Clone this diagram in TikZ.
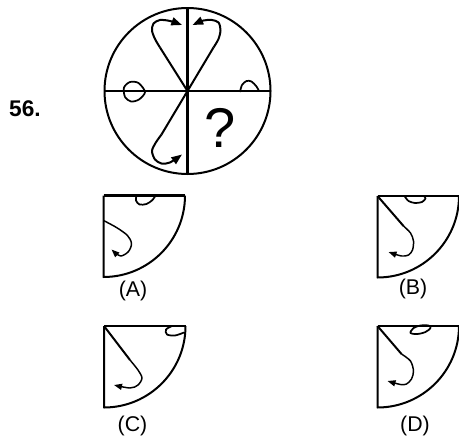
\documentclass[tikz,border=0pt]{standalone}
\usepackage{fontspec}
\setmainfont{Liberation Sans}
\usetikzlibrary{arrows.meta,calc}

\begin{document}
\begin{tikzpicture}[x=0.75pt, y=-0.75pt, line width=1.5pt, line join=round,
		>={Triangle[length=8pt,width=6pt]},
		hookline/.style={line width=1.1pt, -{Triangle[length=6pt,width=4.5pt]}},
		bump/.style={line width=1.3pt},
		rim/.style={line width=2pt},
		lbl/.style={font=\fontsize{16}{16}\selectfont}]
				\useasboundingbox (0,0) rectangle (459,439);
				\def\R{83}
				\def\r{81.5}
				\coordinate (O)  at (187.5,91);
				\coordinate (W)  at ($(O)+(-\R,0)$);
				\coordinate (E)  at ($(O)+(\R,0)$);
				\coordinate (N)  at ($(O)+(0,-\R)$);
				\coordinate (S)  at ($(O)+(0,\R)$);
				% the circle
				\draw (O) circle[radius=\R];
				\draw[line width=1.7pt] (W) -- (E);
				\draw[line width=1.7pt] (N) -- (S);
				\coordinate (UL) at (160,47.5);
				\coordinate (UR) at (213.5,47.5);
				\coordinate (DL) at (161.5,134.5);
				\draw (O) -- (UL);
				\draw (O) -- (UR);
				\draw (O) -- (DL);
				\draw[->] plot[smooth] coordinates {(UL) (155,39) (152,30.5) (153.5,23.5) (160,20) (170,21) (182,25)};
				\draw[->] plot[smooth] coordinates {(UR) (218.5,39) (220.5,30) (218.5,22.5) (212,20) (203.5,20.5) (192.5,25)};
				\draw[->] plot[smooth] coordinates {(DL) (155.5,143) (152,151) (155,159.5) (161.5,163.5) (170,162.5) (182,154.5)};
				\draw[bump] plot[smooth cycle] coordinates {(145,92) (138.5,83) (130,82) (124,87.5) (125,97) (131,101.5) (139,99.5)};
				\draw[bump] plot[smooth] coordinates {(240,92) (242,85) (246.5,81) (251.5,81.5) (256.5,86.5) (259,91)};
				\node (qm)  at (220,128) {\fontsize{42}{42}\selectfont ?};
				\node (num) at (25,109) {\fontsize{17}{17}\selectfont\bfseries 56.};
				% (A)
				\begin{scope}[shift={(103.5,195.5)}]
					\draw (\r,0) arc[start angle=0, end angle=90, radius=\r] -- (0,0);
					\draw[rim] (0,0) -- (\r,0);
					\draw[bump] plot[smooth] coordinates {(33,0) (32.5,5) (36,9) (43,8.5) (49,4.5) (52,0)};
					\draw[hookline] plot[smooth] coordinates {(0,25) (13,32) (24,40) (28,48) (25,56) (17,60.5) (8,54)};
					\node[lbl] (labA) at (29.5,95.5) {(A)};
				\end{scope}
				% (B)
				\begin{scope}[shift={(377.5,196)}]
					\draw (\r,0) arc[start angle=0, end angle=90, radius=\r] -- (0,0);
					\draw[rim] (0,0) -- (\r,0);
					\draw[bump] plot[smooth] coordinates {(27,0) (31,5) (37.5,7) (44.5,6) (48,2.5) (46.5,0)};
					\draw (0,0) -- (26,30);
					\draw[hookline] plot[smooth] coordinates {(26,30) (33,37) (36,45) (35,54) (31,59) (24,60) (11,56)};
					\node[lbl] (labB) at (35.5,93) {(B)};
				\end{scope}
				% (C)
				\begin{scope}[shift={(104,326)}]
					\draw (\r,0) arc[start angle=0, end angle=90, radius=\r] -- (0,0);
					\draw[rim] (0,0) -- (\r,0);
					\draw[bump] plot[smooth] coordinates {(68,0) (62,3.5) (63,8.5) (71,9.5) (80,6.5)};
					\draw (0,0) -- (26,34);
					\draw[hookline] plot[smooth] coordinates {(26,34) (34,44) (38,52) (34,59) (26,62) (10,59)};
					\node[lbl] (labC) at (28.5,100) {(C)};
				\end{scope}
				% (D)
				\begin{scope}[shift={(377.5,326)}]
					\draw (\r,0) arc[start angle=0, end angle=90, radius=\r] -- (0,0);
					\draw[rim] (0,0) -- (\r,0);
					\draw[bump] plot[smooth cycle] coordinates {(33,7) (36,2) (43,-0.5) (51,-0.5) (53,2) (48,6) (40,8)};
					\draw (0,0) -- (24,28);
					\draw[hookline] plot[smooth] coordinates {(24,28) (33,35) (36,45) (34,53) (29,58) (23,58.5) (10,55)};
					\node[lbl] (labD) at (37.5,100) {(D)};
				\end{scope}
		\end{tikzpicture}
\end{document}
